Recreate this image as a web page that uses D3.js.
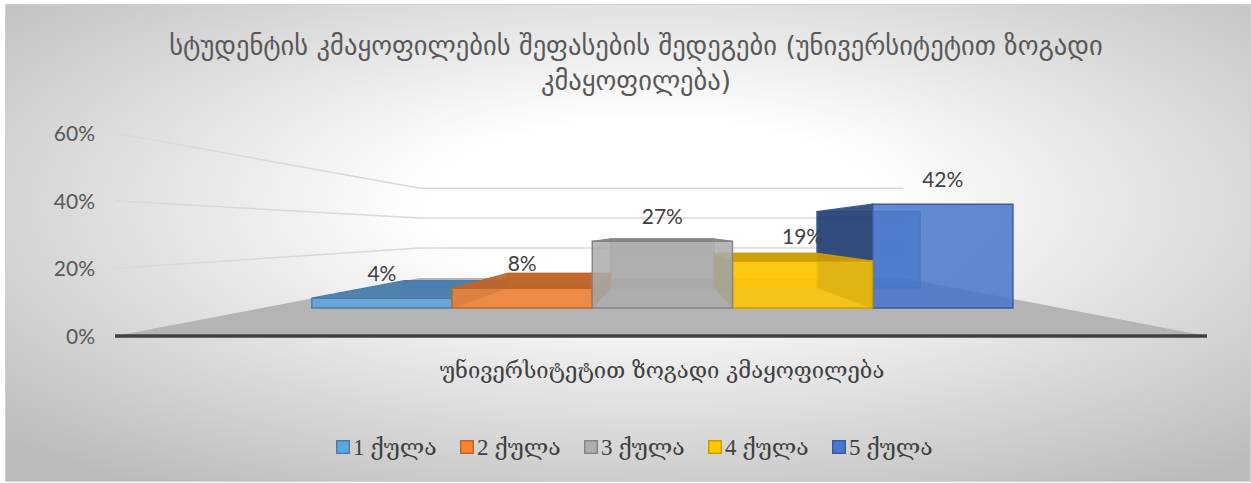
<!DOCTYPE html>
<html>
<head>
<meta charset="utf-8">
<script src="https://cdn.jsdelivr.net/npm/d3@7"></script>
<style>
  body { margin: 0; background: #fff; }
</style>
</head>
<body>
<script>
var width = 1251, height = 483;

// data
var titleLines = ["სტუდენტის კმაყოფილების შეფასების შედეგები (უნივერსიტეტით ზოგადი", "კმაყოფილება)"];
var category = "უნივერსიტეტით ზოგადი კმაყოფილება";
var series = ["1 ქულა", "2 ქულა", "3 ქულა", "4 ქულა", "5 ქულა"];
var values = [0.04, 0.08, 0.27, 0.19, 0.42];
var colors = ["#5b9bd5", "#ed7d31", "#a5a5a5", "#ffc000", "#4472c4"];
var yTicks = [0, 0.2, 0.4, 0.6];

// perspective set-up (front plane coords, shrunk toward a vanishing point)
var CX = 662, VY = 232;
var sFront = 0.731, sBack = 0.538, sWall = 0.443;
var floorL = 115, floorR = 1207;

function P(X, Y, s) { return [CX + (X - CX) * s, VY + (Y - VY) * s]; }
function poly(pts) { return "M" + pts.map(function(p){ return p[0] + "," + p[1]; }).join("L") + "Z"; }

var x = d3.scaleBand().domain(series).range([183, 1142]).padding(0);
var y = d3.scaleLinear().domain([0, 0.6]).range([336, 133]);

var svg = d3.select("body").append("svg")
    .attr("width", width)
    .attr("height", height);

var defs = svg.append("defs");
var grad = defs.append("radialGradient").attr("id", "bg")
    .attr("cx", "52%").attr("cy", "42%").attr("r", "72%");
grad.append("stop").attr("offset", "0").attr("stop-color", "#ffffff");
grad.append("stop").attr("offset", "0.25").attr("stop-color", "#ffffff");
grad.append("stop").attr("offset", "1").attr("stop-color", "#bbbbbb");

svg.append("rect")
    .attr("x", 5.5).attr("y", 4.5)
    .attr("width", width - 6).attr("height", height - 6)
    .attr("fill", "url(#bg)")
    .attr("stroke", "#d0d0d0")
    .attr("stroke-width", 1);

// title
svg.append("g").selectAll("text")
    .data(titleLines)
    .enter().append("text")
    .attr("x", 636)
    .attr("y", function(d, i){ return 55 + i * 35; })
    .attr("text-anchor", "middle")
    .attr("font-family", "'DejaVu Sans', sans-serif")
    .attr("font-size", "26.5px")
    .attr("fill", "#595959")
    .text(function(d){ return d; });

// gridlines: side wall + back wall
var grid = svg.append("g");
yTicks.slice(1).forEach(function(t) {
    var a = P(floorL, y(t), 1), b = P(floorL, y(t), sWall), c = P(floorR, y(t), sWall);
    grid.append("path")
        .attr("d", "M" + a + "L" + b + "L" + c)
        .attr("fill", "none")
        .attr("stroke", "#d9d9d9")
        .attr("stroke-width", 1.5);
});

// y tick labels
svg.append("g").selectAll("text")
    .data(yTicks)
    .enter().append("text")
    .attr("x", 95)
    .attr("y", function(d){ return y(d) + 8; })
    .attr("text-anchor", "end")
    .attr("font-family", "Lato, sans-serif")
    .attr("font-size", "21px")
    .attr("fill", "#595959")
    .text(d3.format(".0%"));

// floor
svg.append("path")
    .attr("d", poly([P(floorL, y(0), 1), P(floorL, y(0), sWall), P(floorR, y(0), sWall), P(floorR, y(0), 1)]))
    .attr("fill", "#b4b4b4");
svg.append("line")
    .attr("x1", floorL).attr("x2", floorR)
    .attr("y1", y(0)).attr("y2", y(0))
    .attr("stroke", "#404040")
    .attr("stroke-width", 3.5);

// bars - farthest from the centre first so the see-through faces stack right
var bars = series.map(function(s, i){ return {name: s, value: values[i], color: colors[i]}; });
var order = bars.slice().sort(function(a, b){
    return Math.abs(x(b.name) + x.bandwidth() / 2 - CX) - Math.abs(x(a.name) + x.bandwidth() / 2 - CX);
});

var gBars = svg.append("g");
order.forEach(function(d) {
    var x0 = x(d.name), x1 = x0 + x.bandwidth();
    var yt = y(d.value), yb = y(0);
    var c = d3.color(d.color);
    var edge = c.darker(0.6).toString();
    var g = gBars.append("g");

    // back face
    g.append("path")
        .attr("d", poly([P(x0, yt, sBack), P(x1, yt, sBack), P(x1, yb, sBack), P(x0, yb, sBack)]))
        .attr("fill", c.darker(0.3)).attr("fill-opacity", 0.6)
        .attr("stroke", edge).attr("stroke-opacity", 0.7).attr("stroke-width", 1.2);
    // side face that faces the viewer
    if (x0 > CX) {
        g.append("path")
            .attr("d", poly([P(x0, yt, sFront), P(x0, yt, sBack), P(x0, yb, sBack), P(x0, yb, sFront)]))
            .attr("fill", c.darker(1.5)).attr("fill-opacity", 0.9)
            .attr("stroke", edge).attr("stroke-width", 1.2);
    }
    if (x1 < CX) {
        g.append("path")
            .attr("d", poly([P(x1, yt, sFront), P(x1, yt, sBack), P(x1, yb, sBack), P(x1, yb, sFront)]))
            .attr("fill", c.darker(1.0)).attr("fill-opacity", 0.9)
            .attr("stroke", edge).attr("stroke-width", 1.2);
    }
    // top face when below eye level
    if (yt > VY) {
        g.append("path")
            .attr("d", poly([P(x0, yt, sFront), P(x0, yt, sBack), P(x1, yt, sBack), P(x1, yt, sFront)]))
            .attr("fill", c.darker(0.6)).attr("fill-opacity", 0.92)
            .attr("stroke", edge).attr("stroke-width", 1.2);
    }
    // front face
    g.append("path")
        .attr("d", poly([P(x0, yt, sFront), P(x1, yt, sFront), P(x1, yb, sFront), P(x0, yb, sFront)]))
        .attr("fill", c.brighter(0.1)).attr("fill-opacity", 0.85)
        .attr("stroke", edge).attr("stroke-width", 1.5);
});

// data labels
svg.append("g").selectAll("text")
    .data(bars)
    .enter().append("text")
    .attr("x", function(d){ return P(x(d.name) + x.bandwidth() / 2, 0, sFront)[0]; })
    .attr("y", function(d){ return P(0, y(d.value), sFront)[1] - 17; })
    .attr("text-anchor", "middle")
    .attr("font-family", "Lato, sans-serif")
    .attr("font-size", "21px")
    .attr("fill", "#404040")
    .text(function(d){ return d3.format(".0%")(d.value); });

// category label
svg.append("text")
    .attr("x", CX)
    .attr("y", 378)
    .attr("text-anchor", "middle")
    .attr("font-family", "'DejaVu Serif', 'DejaVu Sans', serif")
    .attr("font-size", "22px")
    .attr("fill", "#404040")
    .text(category);

// legend
var lx = d3.scaleBand().domain(series).range([336, 336 + 5 * 124]);
var leg = svg.append("g").selectAll("g")
    .data(bars)
    .enter().append("g")
    .attr("transform", function(d){ return "translate(" + lx(d.name) + ",440)"; });
leg.append("rect")
    .attr("x", 0.75).attr("y", 0.75)
    .attr("width", 12.5).attr("height", 12.5)
    .attr("fill", function(d){ return d3.color(d.color).brighter(0.15); })
    .attr("stroke", function(d){ return d3.color(d.color).darker(0.6); })
    .attr("stroke-width", 1.5);
leg.append("text")
    .attr("x", 17)
    .attr("y", 15)
    .attr("font-family", "'Liberation Serif', 'DejaVu Serif', serif")
    .attr("font-size", "23px")
    .attr("fill", "#404040")
    .text(function(d){ return d.name; });
</script>
</body>
</html>
